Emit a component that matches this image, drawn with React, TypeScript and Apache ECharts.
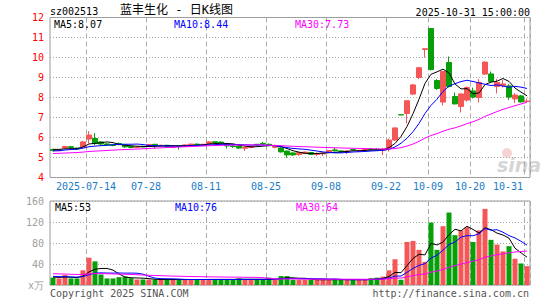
import React, { useEffect, useRef } from "react";
import * as echarts from "echarts";

const dates = [
  "2025-07-04", "2025-07-07", "2025-07-08", "2025-07-09", "2025-07-10", "2025-07-11",
  "2025-07-14", "2025-07-15", "2025-07-16", "2025-07-17", "2025-07-18",
  "2025-07-21", "2025-07-22", "2025-07-23", "2025-07-24", "2025-07-25",
  "2025-07-28", "2025-07-29", "2025-07-30", "2025-07-31", "2025-08-01",
  "2025-08-04", "2025-08-05", "2025-08-06", "2025-08-07", "2025-08-08",
  "2025-08-11", "2025-08-12", "2025-08-13", "2025-08-14", "2025-08-15",
  "2025-08-18", "2025-08-19", "2025-08-20", "2025-08-21", "2025-08-22",
  "2025-08-25", "2025-08-26", "2025-08-27", "2025-08-28", "2025-08-29",
  "2025-09-01", "2025-09-02", "2025-09-03", "2025-09-04", "2025-09-05",
  "2025-09-08", "2025-09-09", "2025-09-10", "2025-09-11", "2025-09-12",
  "2025-09-15", "2025-09-16", "2025-09-17", "2025-09-18", "2025-09-19",
  "2025-09-22", "2025-09-23", "2025-09-24", "2025-09-25", "2025-09-26",
  "2025-09-29", "2025-09-30",
  "2025-10-09", "2025-10-10",
  "2025-10-13", "2025-10-14", "2025-10-15", "2025-10-16", "2025-10-17",
  "2025-10-20", "2025-10-21", "2025-10-22", "2025-10-23", "2025-10-24",
  "2025-10-27", "2025-10-28", "2025-10-29", "2025-10-30", "2025-10-31",
];

const opens = [
  5.40, 5.34, 5.47, 5.54, 5.47, 5.53, 5.92, 5.95, 5.78, 5.68,
  5.64, 5.70, 5.62, 5.56, 5.50, 5.56, 5.58, 5.66, 5.58, 5.61,
  5.51, 5.60, 5.57, 5.62, 5.67, 5.62, 5.68, 5.79, 5.77, 5.68,
  5.58, 5.57, 5.46, 5.50, 5.66, 5.71, 5.66, 5.51, 5.48, 5.32,
  5.23, 5.15, 5.20, 5.25, 5.15, 5.18, 5.25, 5.38, 5.33, 5.28,
  5.40, 5.33, 5.37, 5.42, 5.42, 5.36, 5.45, 5.87, 7.14, 7.20,
  8.17, 9.00, 10.40, 11.45, 8.85, 7.77, 9.75, 8.05, 7.55, 7.87,
  8.33, 8.00, 9.17, 9.18, 8.55, 8.60, 8.58, 7.93, 8.08, 7.80,
];
const closes = [
  5.35, 5.38, 5.55, 5.50, 5.43, 5.78, 6.12, 5.70, 5.67, 5.63,
  5.60, 5.66, 5.53, 5.50, 5.53, 5.53, 5.65, 5.58, 5.61, 5.56,
  5.57, 5.56, 5.63, 5.67, 5.63, 5.66, 5.78, 5.75, 5.74, 5.58,
  5.55, 5.47, 5.50, 5.56, 5.63, 5.68, 5.60, 5.55, 5.28, 5.13,
  5.13, 5.25, 5.27, 5.16, 5.20, 5.22, 5.35, 5.33, 5.28, 5.33,
  5.37, 5.36, 5.42, 5.38, 5.36, 5.42, 5.87, 6.48, 7.13, 7.84,
  8.63, 9.49, 10.44, 9.40, 8.45, 9.30, 8.55, 7.68, 8.18, 8.50,
  8.02, 8.75, 9.77, 8.80, 8.75, 8.68, 8.02, 8.12, 7.78, 7.82,
];
const lows = [
  5.31, 5.32, 5.45, 5.45, 5.38, 5.45, 5.70, 5.62, 5.60, 5.58,
  5.56, 5.60, 5.48, 5.46, 5.47, 5.50, 5.55, 5.45, 5.55, 5.53,
  5.49, 5.40, 5.55, 5.60, 5.61, 5.60, 5.66, 5.72, 5.70, 5.45,
  5.48, 5.42, 5.33, 5.46, 5.60, 5.62, 5.56, 5.45, 5.25, 4.98,
  5.08, 5.08, 5.17, 5.12, 5.08, 5.08, 5.22, 5.30, 5.25, 5.17,
  5.35, 5.30, 5.35, 5.35, 5.33, 5.12, 5.30, 5.83, 7.13, 6.70,
  8.13, 8.92, 10.00, 9.35, 8.38, 7.60, 8.50, 7.65, 7.25, 7.80,
  7.95, 7.75, 9.13, 8.75, 8.20, 8.50, 7.88, 7.72, 7.75, 7.77,
];
const highs = [
  5.44, 5.40, 5.58, 5.58, 5.50, 5.83, 6.32, 6.22, 5.82, 5.72,
  5.68, 5.75, 5.65, 5.58, 5.56, 5.58, 5.68, 5.68, 5.64, 5.64,
  5.60, 5.62, 5.65, 5.69, 5.69, 5.68, 5.82, 5.82, 5.80, 5.70,
  5.62, 5.60, 5.52, 5.58, 5.68, 5.78, 5.70, 5.60, 5.52, 5.35,
  5.26, 5.27, 5.30, 5.28, 5.25, 5.25, 5.37, 5.50, 5.35, 5.35,
  5.42, 5.38, 5.45, 5.45, 5.47, 5.48, 5.95, 6.50, 7.14, 7.84,
  8.68, 9.50, 10.44, 11.48, 8.92, 9.32, 10.05, 8.25, 8.20, 8.55,
  8.50, 8.92, 9.80, 9.30, 8.93, 8.88, 8.67, 8.22, 8.13, 7.95,
];
// volume, 万手
const volumes = [
  14, 12.5, 19, 12.5, 12.5, 28, 52, 45, 20, 12.5,
  12.5, 15, 16, 13, 10.5, 10.5, 10.5, 10.5, 10, 10.5,
  10.5, 10.5, 10.5, 10.5, 10.5, 10.5, 11, 10.5, 10.5, 10.5,
  10.5, 12.5, 10.5, 10.5, 10.5, 10.5, 14, 10.5, 17, 17,
  10, 10, 10, 10, 10, 10, 10, 11, 10, 10,
  10, 10, 10, 13, 14, 16, 28, 49, 10, 82,
  84, 67, 44, 119, 67, 112, 138, 95, 104, 110,
  82, 104, 145, 86, 77, 64, 74, 50, 41, 36,
];
// closes / volumes before the first visible day (only feed the moving averages)
const priorCloses = [
  5.12, 5.15, 5.10, 5.08, 5.13, 5.17, 5.20, 5.16, 5.12, 5.10,
  5.14, 5.18, 5.15, 5.11, 5.13, 5.16, 5.14, 5.12, 5.15, 5.19,
  5.20, 5.22, 5.25, 5.26, 5.27, 5.38, 5.42, 5.45, 5.43,
];
const priorVolumes = [
  26, 22, 30, 24, 20, 28, 25, 22, 19, 27,
  24, 21, 26, 23, 30, 25, 22, 24, 21, 22,
  18, 20, 17, 16, 19, 15, 16, 14, 16,
];

const labelDates = [
  "2025-07-14", "2025-07-28", "2025-08-11", "2025-08-25", "2025-09-08",
  "2025-09-22", "2025-10-09", "2025-10-20", "2025-10-31",
];
const priceTicks = [4, 12, 1];
const volumeTicks = [0, 160, 40];

const priceMaLabels = ["MA5:8.07", "MA10:8.44", "MA30:7.73"];
const volumeMaLabels = ["MA5:53", "MA10:76", "MA30:64"];
const maColors = ["#000000", "#0000ff", "#ff00ff"];
const maPeriods = [5, 10, 30];

const RED = "#f55656";
const GREEN = "#08a008";
const MONO = '"DejaVu Sans Mono", monospace';

function movingAverage(prior: number[], values: number[], n: number) {
  const all = prior.concat(values);
  return values.map((_, i) => {
    const end = prior.length + i;
    let s = 0;
    for (let k = end - n + 1; k <= end; k++) s += all[k];
    return +(s / n).toFixed(3);
  });
}

export default function App() {
  const ref = useRef<HTMLDivElement>(null);
  useEffect(() => {
    if (!ref.current) return;
    const chart = echarts.init(ref.current, undefined, { renderer: "svg" });
    const candleData = dates.map((_, i) => [opens[i], closes[i], lows[i], highs[i]]);
    const volData = volumes.map((v, i) => ({
      value: v,
      itemStyle: { color: closes[i] > opens[i] ? RED : GREEN },
    }));
    const lastIdx = dates.length - 1;
    const showIdx = (idx: number, value?: string) =>
      labelDates.includes(value !== undefined ? value : dates[idx]);
    const splitIv = (idx: number) => labelDates.includes(dates[idx]);

    const xCommon = {
      type: "category" as const,
      data: dates,
      boundaryGap: true,
      axisLine: { show: false },
      axisTick: { show: false },
      splitLine: {
        show: true,
        interval: splitIv,
        lineStyle: { color: "#aaaaaa", type: [5, 3], width: 1 },
      },
    };

    const priceLines = maPeriods.map((n, k) => ({
      type: "line",
      xAxisIndex: 0,
      yAxisIndex: 0,
      data: movingAverage(priorCloses, closes, n),
      symbol: "none",
      smooth: false,
      lineStyle: { color: maColors[k], width: 1 },
      z: 3,
    }));
    const volLines = maPeriods.map((n, k) => ({
      type: "line",
      xAxisIndex: 1,
      yAxisIndex: 1,
      data: movingAverage(priorVolumes, volumes, n),
      symbol: "none",
      smooth: false,
      lineStyle: { color: maColors[k], width: 1 },
      z: 3,
    }));

    const maTextX = [54, 174, 295];
    const graphic: any[] = [
      { type: "text", x: 50, y: 11, style: { text: "sz002513", font: `10px ${MONO}`, fill: "#000", verticalAlign: "middle" } },
      { type: "text", x: 120, y: 10, style: { text: "蓝丰生化 - 日K线图", font: `12px "DejaVu Sans Mono", "Noto Sans CJK SC"`, fill: "#000", verticalAlign: "middle" } },
      { type: "text", x: 530, y: 12, style: { text: "2025-10-31 15:00:00", font: `10px ${MONO}`, fill: "#000", align: "right", verticalAlign: "middle" } },
      { type: "text", x: 50, y: 293, style: { text: "Copyright 2025 SINA.COM", font: `10px ${MONO}`, fill: "#555", verticalAlign: "middle" } },
      { type: "text", x: 529, y: 293, style: { text: "http://finance.sina.com.cn", font: `10px ${MONO}`, fill: "#555", align: "right", verticalAlign: "middle" } },
      { type: "circle", shape: { cx: 507, cy: 153, r: 5 }, style: { fill: "rgba(240,175,175,0.55)" } },
      { type: "text", x: 497, y: 165, style: { text: "sina", font: `italic bold 19px "DejaVu Sans"`, fill: "rgba(195,195,195,0.7)", verticalAlign: "middle" } },
    ];
    priceMaLabels.forEach((t, k) =>
      graphic.push({ type: "text", x: maTextX[k], y: 24, z: 10, style: { text: t, font: `10px ${MONO}`, fill: maColors[k], verticalAlign: "middle" } })
    );
    volumeMaLabels.forEach((t, k) =>
      graphic.push({ type: "text", x: maTextX[k] + 1, y: 207, z: 10, style: { text: t, font: `10px ${MONO}`, fill: maColors[k], verticalAlign: "middle" } })
    );

    chart.setOption({
      animation: false,
      backgroundColor: "#ffffff",
      textStyle: { fontFamily: MONO },
      grid: [
        { left: 50, width: 480, top: 17.5, height: 160, show: true, borderColor: "#999999", borderWidth: 1, backgroundColor: "transparent" },
        { left: 50, width: 480, top: 201, height: 84, show: true, borderColor: "#999999", borderWidth: 1, backgroundColor: "transparent" },
      ],
      xAxis: [
        {
          ...xCommon,
          gridIndex: 0,
          axisLabel: {
            show: true,
            interval: (idx: number, value: string) => showIdx(idx, value),
            margin: 4,
            fontSize: 10,
            fontFamily: MONO,
            color: "#1a7cc8",
            formatter: (value: string, idx: number) => {
              const txt = value === labelDates[0] ? value : value.slice(5);
              return idx === lastIdx ? `{e|${txt}}` : `{n|${txt}}`;
            },
            rich: {
              n: { padding: [0, 6, 0, 0], fontSize: 10, fontFamily: MONO, color: "#1a7cc8" },
              e: { padding: [0, 38, 0, 0], fontSize: 10, fontFamily: MONO, color: "#1a7cc8" },
            },
          },
        },
        { ...xCommon, gridIndex: 1, axisLabel: { show: false } },
      ],
      yAxis: [
        {
          type: "value",
          gridIndex: 0,
          min: priceTicks[0],
          max: priceTicks[1],
          interval: priceTicks[2],
          axisLine: { show: false },
          axisTick: { show: false },
          axisLabel: { color: "#ff0000", fontSize: 10, fontFamily: MONO, margin: 6 },
          splitLine: { show: true, lineStyle: { color: "#aaaaaa", type: [1, 2], width: 1 } },
        },
        {
          type: "value",
          gridIndex: 1,
          min: volumeTicks[0],
          max: volumeTicks[1],
          interval: volumeTicks[2],
          axisLine: { show: false },
          axisTick: { show: false },
          axisLabel: {
            color: "#a0a0a0",
            fontSize: 10,
            fontFamily: MONO,
            margin: 6,
            formatter: (v: number) => (v === 0 ? "x万" : String(v)),
          },
          splitLine: { show: true, lineStyle: { color: "#aaaaaa", type: [1, 2], width: 1 } },
        },
      ],
      series: [
        {
          type: "candlestick",
          xAxisIndex: 0,
          yAxisIndex: 0,
          data: candleData,
          barWidth: 5,
          itemStyle: { color: RED, color0: GREEN, borderColor: RED, borderColor0: GREEN, borderWidth: 1 },
          z: 2,
        },
        ...priceLines,
        {
          type: "bar",
          xAxisIndex: 1,
          yAxisIndex: 1,
          data: volData,
          barWidth: 5,
          z: 2,
        },
        ...volLines,
      ],
      graphic,
    });
    return () => chart.dispose();
  }, []);
  return (
    <div
      ref={ref}
      style={{ position: "fixed", left: 0, top: 0, width: 545, height: 300, background: "#fff" }}
    />
  );
}
